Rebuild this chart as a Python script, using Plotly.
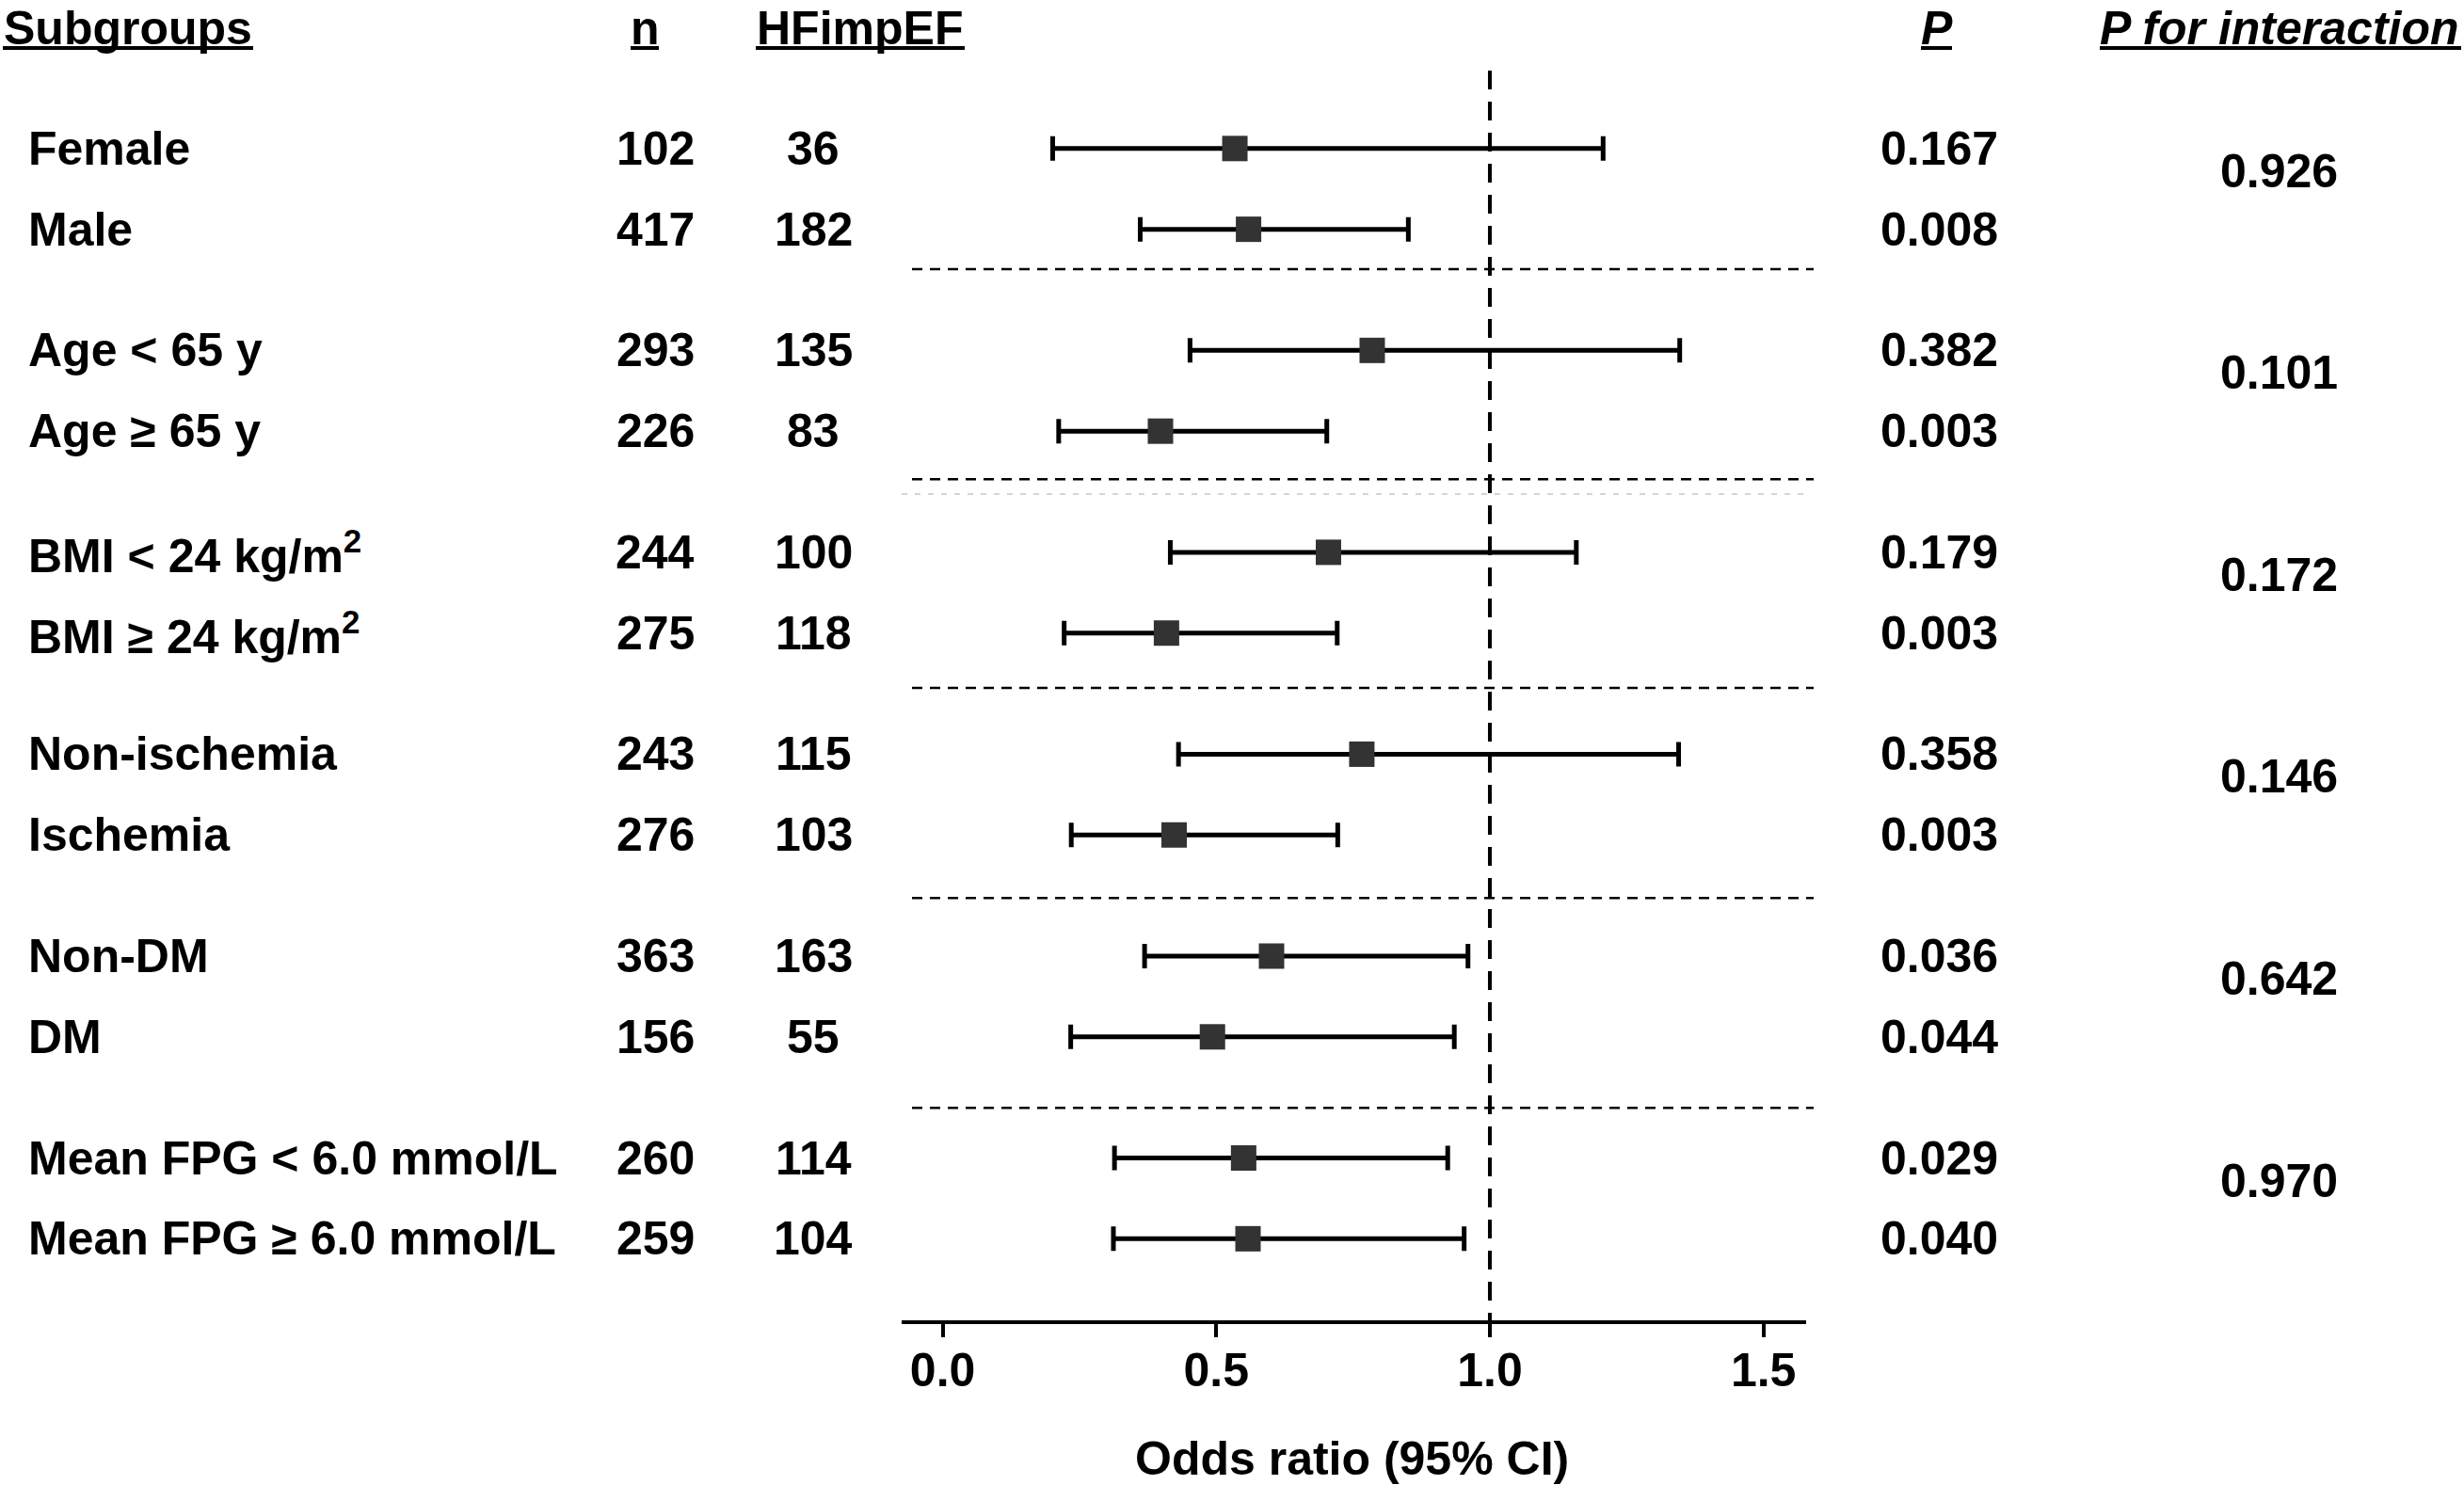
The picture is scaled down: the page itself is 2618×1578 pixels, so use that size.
import plotly.graph_objects as go

# ---- data ----
subgroups = ["Female", "Male",
             "Age < 65 y", "Age \u2265 65 y",
             "BMI < 24 kg/m<sup>2</sup>", "BMI \u2265 24 kg/m<sup>2</sup>",
             "Non-ischemia", "Ischemia",
             "Non-DM", "DM",
             "Mean FPG < 6.0 mmol/L", "Mean FPG \u2265 6.0 mmol/L"]
n_total = [102, 417, 293, 226, 244, 275, 243, 276, 363, 156, 260, 259]
n_hfimpef = [36, 182, 135, 83, 100, 118, 115, 103, 163, 55, 114, 104]
odds_ratio = [0.534, 0.559, 0.785, 0.398, 0.705, 0.409, 0.766, 0.423, 0.601, 0.493, 0.550, 0.558]
ci_low = [0.201, 0.361, 0.452, 0.212, 0.416, 0.222, 0.431, 0.235, 0.369, 0.234, 0.314, 0.312]
ci_high = [1.207, 0.851, 1.347, 0.702, 1.158, 0.721, 1.345, 0.722, 0.960, 0.935, 0.923, 0.953]
p_values = ["0.167", "0.008", "0.382", "0.003", "0.179", "0.003",
            "0.358", "0.003", "0.036", "0.044", "0.029", "0.040"]
p_interaction = ["0.926", "0.101", "0.172", "0.146", "0.642", "0.970"]
x_ticks = [0.0, 0.5, 1.0, 1.5]

# ---- layout constants (pixels of a 2618 x 1578 canvas) ----
W, H = 2618, 1578
FONT = "Liberation Sans, Arial, sans-serif"
FS = 50

# row slots: two rows per group, wider gap between groups
row_y = [g * 5 + r * 2 for g in range(len(p_interaction)) for r in range(2)]
sep_y = [2.99, 8.19, 13.36, 18.56, 23.76]
faint_y = 8.56
y_top, y_bottom = -1.93, 29.02


def px(x):
    return x / W


def py(y):
    return 1 - y / H


fig = go.Figure()

fig.add_trace(go.Scatter(
    x=odds_ratio, y=row_y, mode="markers",
    marker=dict(symbol="square", size=27, color="#333333", line=dict(width=0)),
    error_x=dict(type="data", symmetric=False,
                 array=[h - o for h, o in zip(ci_high, odds_ratio)],
                 arrayminus=[o - l for o, l in zip(odds_ratio, ci_low)],
                 thickness=5, width=13, color="black"),
    cliponaxis=False, showlegend=False, hoverinfo="skip"))

# reference line at OR = 1
fig.add_shape(type="line", xref="x", yref="y", x0=1, x1=1, y0=y_top, y1=y_bottom,
              line=dict(color="black", width=4, dash="20px,13px"), layer="below")

# group separators
for s in sep_y:
    fig.add_shape(type="line", xref="paper", yref="y", x0=px(969), x1=px(1927), y0=s, y1=s,
                  line=dict(color="black", width=2.5, dash="11px,8px"), layer="below")
fig.add_shape(type="line", xref="paper", yref="y", x0=px(958), x1=px(1917), y0=faint_y, y1=faint_y,
              line=dict(color="#c8c8c8", width=1.5, dash="6px,8px"), layer="below")

ann = []
bold = dict(family=FONT, size=FS, color="black", weight="bold")
italic = dict(family=FONT, size=FS, color="black", weight="bold", style="italic")

# column headers with underlines
headers = [("Subgroups", 2, "left", bold, (3, 269)),
           ("n", 685, "center", bold, (670, 700)),
           ("HFimpEF", 914, "center", bold, (803, 1025)),
           ("P", 2058, "center", italic, (2041, 2074)),
           ("P for interaction", 2229, "left", italic, (2231, 2615))]
for text, x, anchor, f, (u0, u1) in headers:
    ann.append(dict(text=text, x=px(x), y=py(0), xref="paper", yref="paper",
                    xanchor=anchor, yanchor="top", showarrow=False, font=f))
    fig.add_shape(type="line", xref="paper", yref="paper", x0=px(u0), x1=px(u1),
                  y0=py(51), y1=py(51), line=dict(color="black", width=4))

for i, y in enumerate(row_y):
    ann.append(dict(text=subgroups[i], x=px(28), y=y, xref="paper", yref="y",
                    xanchor="left", yanchor="middle", showarrow=False, font=bold))
    ann.append(dict(text=str(n_total[i]), x=px(696), y=y, xref="paper", yref="y",
                    xanchor="center", yanchor="middle", showarrow=False, font=bold))
    ann.append(dict(text=str(n_hfimpef[i]), x=px(864), y=y, xref="paper", yref="y",
                    xanchor="center", yanchor="middle", showarrow=False, font=bold))
    ann.append(dict(text=p_values[i], x=px(2060), y=y, xref="paper", yref="y",
                    xanchor="center", yanchor="middle", showarrow=False, font=bold))

for g, p in enumerate(p_interaction):
    ann.append(dict(text=p, x=px(2421), y=row_y[2 * g] + 0.56, xref="paper", yref="y",
                    xanchor="center", yanchor="middle", showarrow=False, font=bold))

ann.append(dict(text="Odds ratio (95% CI)", x=px(1436), y=py(1550), xref="paper", yref="paper",
                xanchor="center", yanchor="middle", showarrow=False, font=bold))

fig.update_layout(
    width=W, height=H, margin=dict(l=0, r=0, t=0, b=0),
    paper_bgcolor="white", plot_bgcolor="white",
    annotations=ann,
    xaxis=dict(domain=[px(958), px(1919)], range=[-0.075, 1.578],
               tickvals=x_ticks, ticktext=[f"{v:.1f}" for v in x_ticks],
               ticks="outside", ticklen=14, tickwidth=3.5, tickcolor="black",
               ticklabelstandoff=-8,
               showline=True, linewidth=4, linecolor="black",
               showgrid=False, zeroline=False, automargin=False,
               tickfont=dict(family=FONT, size=FS, color="black", weight="bold")),
    yaxis=dict(domain=[py(1403), py(75)], range=[y_bottom, y_top],
               visible=False, showgrid=False, zeroline=False, automargin=False),
)

fig.write_html("out.html", config={"displayModeBar": False},
               post_script="document.body.style.margin='0';document.body.style.overflow='hidden';")
